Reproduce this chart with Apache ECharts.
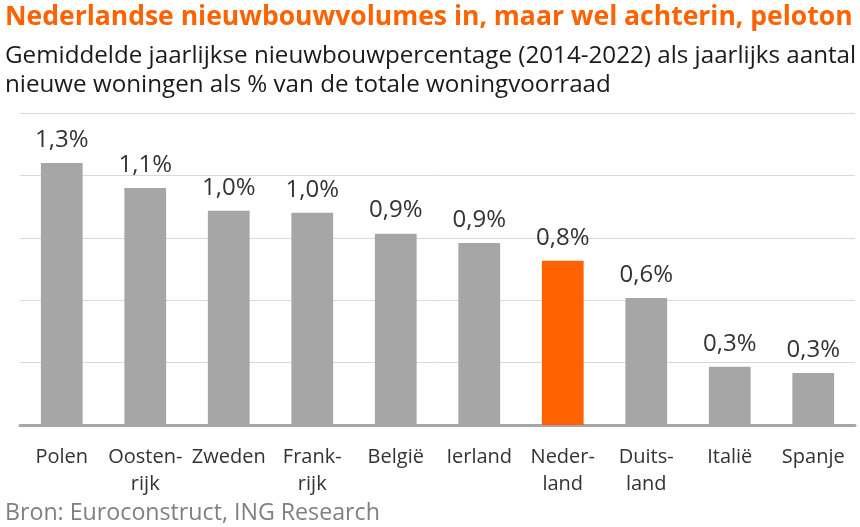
<!DOCTYPE html>
<html><head><meta charset="utf-8">
<script src="https://cdn.jsdelivr.net/npm/echarts@6/dist/echarts.min.js"></script>
<style>html,body{margin:0;padding:0;background:#fff}#c{width:860px;height:527px}</style>
</head><body><div id="c"></div>
<script>
const categories = ["Polen","Oosten-\nrijk","Zweden","Frank-\nrijk","België","Ierland","Neder-\nland","Duits-\nland","Italië","Spanje"];
const values = [1.26, 1.14, 1.03, 1.02, 0.92, 0.875, 0.79, 0.61, 0.28, 0.25];
const valueLabels = ["1,3%","1,1%","1,0%","1,0%","0,9%","0,9%","0,8%","0,6%","0,3%","0,3%"];
const highlight = "Neder-\nland";
const titleText = "Nederlandse nieuwbouwvolumes in, maar wel achterin, peloton";
const subtitleText = "Gemiddelde jaarlijkse nieuwbouwpercentage (2014-2022) als jaarlijks aantal\nnieuwe woningen als % van de totale woningvoorraad";
const sourceText = "Bron: Euroconstruct, ING Research";
const FONT = "Open Sans";
const chart = echarts.init(document.getElementById('c'), null, {renderer:'canvas'});
chart.setOption({
  animation:false,
  title:[
    {text:titleText,left:0,top:-1,textStyle:{color:'#FF6200',fontFamily:FONT,fontWeight:'bold',fontSize:26.5}},
    {text:subtitleText,left:0,top:37,textStyle:{color:'#1a1a1a',fontFamily:FONT,fontWeight:'normal',fontSize:24.2,lineHeight:29}},
    {text:sourceText,left:0,bottom:-3,textStyle:{color:'#808080',fontFamily:FONT,fontWeight:'normal',fontSize:23.2}}
  ],
  grid:{left:20,right:5,top:113,bottom:102},
  xAxis:{type:'category',data:categories,
    axisLine:{lineStyle:{color:'#A6A6A6',width:3}},
    axisTick:{show:false},
    axisLabel:{interval:0,color:'#333',fontFamily:FONT,fontSize:20,lineHeight:27,margin:18.5}},
  yAxis:{type:'value',min:0,max:1.5,interval:0.3,
    axisLabel:{show:false},axisLine:{show:false},axisTick:{show:false},
    splitLine:{lineStyle:{color:'#D9D9D9',width:1}}},
  series:[{type:'bar',barWidth:'50%',
    data:values.map((v,i)=>({value:v,itemStyle:{color:categories[i]===highlight?'#FF6200':'#A6A6A6'}})),
    label:{show:true,position:'top',distance:11,color:'#333',fontFamily:FONT,fontSize:24,
      formatter:p=>valueLabels[p.dataIndex]}}]
});
</script></body></html>
